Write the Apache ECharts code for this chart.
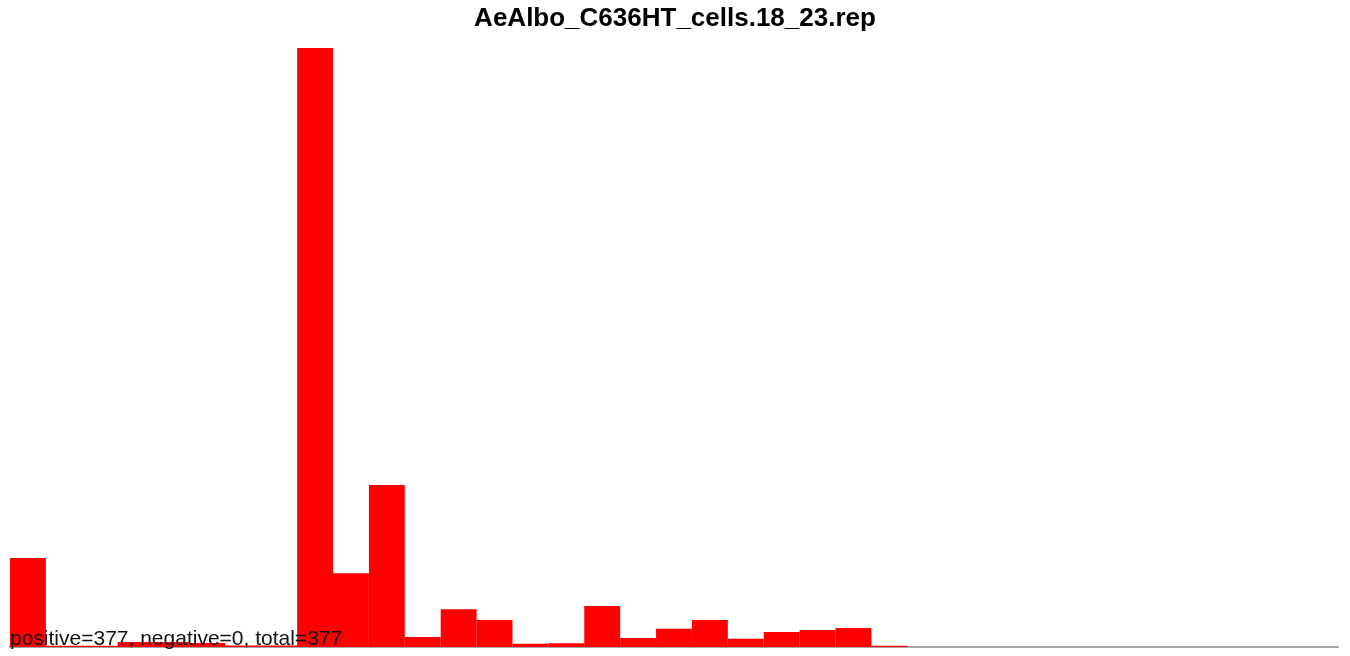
<!DOCTYPE html>
<html>
<head>
<meta charset="utf-8">
<script src="https://cdn.jsdelivr.net/npm/echarts@6/dist/echarts.min.js"></script>
<style>
  html, body { margin: 0; padding: 0; background: #fff; }
  #main { width: 1350px; height: 656px; }
</style>
</head>
<body>
<div id="main"></div>
<script>
// 类别 0..36
var categories = [];
for (var i = 0; i < 37; i++) { categories.push(String(i)); }

// 各柱高度
var values = [
  28.4, 0.4, 0.4, 1.6, 1.6, 1.3, 0.5, 0.5,
  191.4, 23.6, 51.8, 3.2, 12.1, 8.6, 1.0, 1.2,
  13.1, 2.9, 5.8, 8.6, 2.6, 4.8, 5.4, 6.1, 0.4,
  0, 0, 0, 0, 0, 0, 0, 0, 0, 0, 0, 0
];

var titleText = 'AeAlbo_C636HT_cells.18_23.rep';
var summaryText = 'positive=377, negative=0, total=377';

var chart = echarts.init(document.getElementById('main'));

var option = {
  animation: false,
  title: {
    text: titleText,
    left: 'center',
    top: 1,
    textStyle: {
      fontFamily: 'Liberation Sans, Arial, sans-serif',
      fontSize: 26,
      fontWeight: 'bold',
      color: '#000'
    }
  },
  grid: {
    left: 10,
    right: 12,
    top: 48,
    bottom: 9,
    containLabel: false
  },
  xAxis: {
    type: 'category',
    data: categories,
    axisLine: { show: true, lineStyle: { color: '#a6a6a6', width: 2 } },
    axisTick: { show: false },
    axisLabel: { show: false },
    splitLine: { show: false }
  },
  yAxis: {
    type: 'value',
    min: 0,
    max: Math.max.apply(null, values),
    show: false,
    splitLine: { show: false }
  },
  series: [{
    type: 'bar',
    data: values,
    barCategoryGap: 0,
    barGap: 0,
    itemStyle: { color: '#ff0000' },
    z: 1
  }],
  graphic: [{
    type: 'text',
    left: 10,
    bottom: 6,
    z: 100,
    style: {
      text: summaryText,
      font: '21px "Liberation Sans", Arial, sans-serif',
      fill: '#111'
    }
  }]
};

chart.setOption(option);
</script>
</body>
</html>
